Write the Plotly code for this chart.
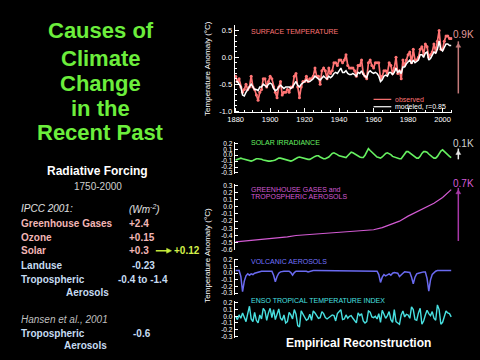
import plotly.graph_objects as go

# ---------------- data ----------------
years = list(range(1880, 2006))

observed = [
    -0.35, -0.45, -0.40, -0.55, -0.65, -0.60, -0.50, -0.60, -0.55, -0.35,
    -0.55, -0.60, -0.70, -0.80, -0.65, -0.60, -0.40, -0.40, -0.55, -0.45,
    -0.35, -0.40, -0.55, -0.65, -0.75, -0.55, -0.45, -0.70, -0.65, -0.65,
    -0.60, -0.65, -0.55, -0.55, -0.35, -0.30, -0.55, -0.75, -0.55, -0.45,
    -0.45, -0.35, -0.45, -0.40, -0.40, -0.35, -0.20, -0.35, -0.35, -0.50,
    -0.25, -0.20, -0.25, -0.40, -0.20, -0.30, -0.25, -0.10, -0.10, -0.15,
    -0.05, -0.05, -0.10, -0.05, 0.05, -0.15, -0.20, -0.20, -0.20, -0.25,
    -0.35, -0.15, -0.15, -0.05, -0.30, -0.35, -0.40, -0.10, -0.05, -0.15,
    -0.20, -0.10, -0.10, -0.10, -0.40, -0.35, -0.25, -0.25, -0.30, -0.10,
    -0.15, -0.30, -0.20, 0.00, -0.30, -0.25, -0.40, -0.05, -0.15, -0.05,
    0.05, 0.10, -0.10, 0.15, -0.05, -0.05, 0.00, 0.15, 0.20, 0.05,
    0.25, 0.20, 0.00, 0.05, 0.10, 0.25, 0.10, 0.30, 0.50, 0.15,
    0.15, 0.30, 0.40, 0.40, 0.35, 0.35,
]

modeled = [
    -0.45, -0.45, -0.50, -0.55, -0.70, -0.72, -0.65, -0.60, -0.55, -0.50,
    -0.55, -0.60, -0.60, -0.62, -0.55, -0.55, -0.50, -0.52, -0.55, -0.50,
    -0.48, -0.50, -0.58, -0.62, -0.60, -0.55, -0.52, -0.55, -0.58, -0.55,
    -0.55, -0.55, -0.58, -0.55, -0.50, -0.45, -0.52, -0.55, -0.50, -0.48,
    -0.45, -0.42, -0.45, -0.45, -0.42, -0.40, -0.35, -0.38, -0.40, -0.42,
    -0.38, -0.35, -0.38, -0.40, -0.35, -0.38, -0.35, -0.30, -0.28, -0.30,
    -0.25, -0.20, -0.28, -0.28, -0.25, -0.30, -0.32, -0.32, -0.30, -0.32,
    -0.35, -0.28, -0.30, -0.25, -0.32, -0.35, -0.38, -0.28, -0.25, -0.28,
    -0.30, -0.28, -0.30, -0.35, -0.45, -0.42, -0.35, -0.33, -0.35, -0.28,
    -0.28, -0.32, -0.28, -0.20, -0.28, -0.25, -0.30, -0.18, -0.18, -0.12,
    -0.08, -0.05, -0.12, -0.05, -0.10, -0.08, -0.05, 0.05, 0.05, 0.00,
    0.08, 0.10, -0.05, -0.02, 0.05, 0.10, 0.08, 0.15, 0.30, 0.15,
    0.12, 0.20, 0.25, 0.25, 0.22, 0.22,
]

solar = [
    -0.08, -0.07, -0.06, -0.05, -0.06, -0.07, -0.08, -0.09, -0.10, -0.10,
    -0.09, -0.07, -0.06, -0.06, -0.06, -0.07, -0.08, -0.09, -0.09, -0.10,
    -0.10, -0.10, -0.09, -0.08, -0.06, -0.05, -0.05, -0.06, -0.07, -0.08,
    -0.09, -0.09, -0.10, -0.09, -0.07, -0.05, -0.04, -0.03, -0.04, -0.05,
    -0.06, -0.07, -0.07, -0.07, -0.05, -0.03, -0.02, -0.01, -0.01, -0.03,
    -0.05, -0.06, -0.06, -0.05, -0.03, 0.00, 0.03, 0.04, 0.03, 0.01,
    -0.01, -0.02, -0.03, -0.04, -0.04, -0.01, 0.03, 0.05, 0.04, 0.02,
    0.00, -0.02, -0.03, -0.04, -0.04, 0.00, 0.07, 0.11, 0.08, 0.05,
    0.02, -0.01, -0.03, -0.04, -0.05, -0.03, 0.00, 0.03, 0.04, 0.03,
    0.01, -0.02, -0.03, -0.05, -0.06, -0.06, -0.06, -0.02, 0.03, 0.06,
    0.06, 0.04, 0.02, -0.01, -0.03, -0.05, -0.05, -0.02, 0.03, 0.06,
    0.06, 0.05, 0.02, -0.01, -0.03, -0.05, -0.05, -0.02, 0.03, 0.07,
    0.09, 0.06, 0.04, 0.00, -0.02, -0.04,
]

ghg_years = list(range(1880, 2006, 5))
ghg = [
    -0.49, -0.48, -0.46, -0.45, -0.44, -0.43, -0.42, -0.40, -0.39, -0.38,
    -0.37, -0.36, -0.35, -0.35, -0.34, -0.33, -0.32, -0.29, -0.25, -0.20,
    -0.13, -0.07, -0.01, 0.05, 0.13, 0.24,
]

volcanic = [
    0.04, 0.04, 0.04, -0.05, -0.28, -0.12, -0.04, -0.01, -0.03, -0.01,
    -0.02, 0.00, 0.01, 0.02, 0.02, 0.03, 0.03, 0.03, 0.03, 0.03,
    0.03, 0.03, -0.03, -0.13, -0.05, 0.00, 0.02, 0.03, 0.03, 0.03,
    0.03, 0.03, 0.01, -0.03, 0.01, 0.03, 0.03, 0.03, 0.03, 0.03,
    0.04, 0.03, 0.02, 0.03, 0.04, 0.04, 0.04, 0.04, 0.04, 0.03,
    0.03, 0.04, 0.04, 0.03, 0.04, 0.04, 0.04, 0.04, 0.04, 0.04,
    0.04, 0.04, 0.04, 0.04, 0.04, 0.04, 0.04, 0.04, 0.04, 0.04,
    0.04, 0.04, 0.04, 0.04, 0.04, 0.04, 0.04, 0.04, 0.04, 0.04,
    0.04, 0.04, 0.03, -0.02, -0.14, -0.06, -0.02, -0.04, -0.03, -0.01,
    -0.03, 0.00, 0.01, 0.01, 0.00, -0.05, -0.02, 0.00, 0.02, 0.02,
    0.01, 0.01, -0.06, -0.16, -0.06, -0.01, 0.00, 0.01, 0.02, 0.02,
    0.02, -0.08, -0.27, -0.10, -0.02, 0.01, 0.03, 0.04, 0.04, 0.04,
    0.04, 0.04, 0.04, 0.04, 0.04, 0.04,
]

enso = [
    0.00, -0.05, 0.02, -0.03, 0.05, -0.02, -0.08, 0.04, 0.15, -0.04,
    -0.08, 0.06, -0.06, -0.10, 0.02, -0.04, 0.12, 0.08, -0.06, 0.05,
    0.12, -0.02, 0.10, -0.05, 0.04, 0.11, -0.03, -0.06, 0.02, -0.10,
    -0.08, 0.06, 0.02, -0.04, 0.10, 0.03, -0.14, -0.16, 0.08, 0.04,
    -0.02, -0.06, -0.04, 0.03, -0.06, 0.08, 0.05, 0.00, -0.03, -0.02,
    0.07, 0.04, -0.02, -0.04, -0.02, 0.00, 0.02, 0.01, -0.07, 0.04,
    0.08, 0.10, -0.05, -0.04, 0.02, -0.03, 0.00, 0.01, -0.03, -0.06,
    -0.10, 0.05, 0.01, 0.04, -0.07, -0.10, -0.08, 0.08, 0.06, -0.01,
    -0.02, 0.00, -0.04, 0.04, -0.09, 0.09, 0.02, -0.03, 0.01, 0.07,
    -0.05, -0.09, 0.10, -0.08, -0.10, -0.12, 0.02, 0.08, -0.01, 0.03,
    0.02, -0.03, 0.14, 0.10, -0.05, -0.06, 0.05, 0.12, -0.12, -0.07,
    0.02, 0.09, 0.04, 0.01, 0.07, -0.03, -0.06, 0.17, 0.10, -0.12,
    -0.09, -0.02, 0.08, 0.05, 0.04, -0.01,
]

top_xticks = [1880, 1900, 1920, 1940, 1960, 1980, 2000]
top_yticks = [-1.0, -0.5, 0.0, 0.5]
small_yticks = [0.2, 0.1, 0.0, -0.1, -0.2, -0.3]
ghg_yticks = [0.3, 0.2, 0.1, 0.0, -0.1, -0.2, -0.3, -0.4, -0.5, -0.6]

# ---------------- helpers ----------------
W, H = 480, 360
FONT = "Liberation Sans, Arial, sans-serif"


def px(x):
    return x / W


def py(y):
    return 1 - y / H


def labels(vals):
    return ["%.1f" % v for v in vals]


SALMON = "#ff7474"
GREEN = "#66f060"
MAGENTA = "#d25ad2"
BLUE = "#6a6af0"
CYAN = "#48e0e0"

XRANGE = [1879.4, 2005.7]
XDOM = [px(231), px(452)]

fig = go.Figure()
fig.add_trace(go.Scatter(x=years, y=observed, mode="lines+markers",
                         line=dict(color=SALMON, width=1.7),
                         marker=dict(color=SALMON, size=3),
                         xaxis="x", yaxis="y"))
fig.add_trace(go.Scatter(x=years, y=modeled, mode="lines",
                         line=dict(color="white", width=1.5),
                         xaxis="x", yaxis="y"))
fig.add_trace(go.Scatter(x=years, y=solar, mode="lines",
                         line=dict(color=GREEN, width=1.6),
                         xaxis="x2", yaxis="y2"))
fig.add_trace(go.Scatter(x=ghg_years, y=ghg, mode="lines",
                         line=dict(color=MAGENTA, width=1.2),
                         xaxis="x3", yaxis="y3"))
fig.add_trace(go.Scatter(x=years, y=volcanic, mode="lines",
                         line=dict(color=BLUE, width=1.5),
                         xaxis="x4", yaxis="y4"))
fig.add_trace(go.Scatter(x=years, y=enso, mode="lines",
                         line=dict(color=CYAN, width=1.4),
                         xaxis="x5", yaxis="y5"))

axis_common = dict(showgrid=False, zeroline=False, color="white",
                   linecolor="white", linewidth=1, tickcolor="white",
                   showline=True, ticks="inside")

layout = dict(
    width=W, height=H, margin=dict(l=0, r=0, t=0, b=0),
    paper_bgcolor="black", plot_bgcolor="black", showlegend=False,
    font=dict(family=FONT, color="white"),
    xaxis=dict(domain=XDOM, range=XRANGE, anchor="y",
               tickvals=top_xticks, ticktext=[str(v) for v in top_xticks],
               ticklen=4, tickfont=dict(size=7.5),
               minor=dict(ticks="inside", ticklen=2, dtick=5, tick0=1880,
                          tickcolor="white"),
               **axis_common),
    yaxis=dict(domain=[py(112), py(23)], range=[-1.02, 0.61], anchor="x",
               tickvals=top_yticks, ticktext=labels(top_yticks),
               ticklen=4, tickfont=dict(size=7.5),
               minor=dict(ticks="inside", ticklen=2, dtick=0.1, tick0=0,
                          tickcolor="white"),
               **axis_common),
)

lower = [
    (2, [142, 175], [-0.32, 0.23], small_yticks),
    (3, [185, 252], [-0.60, 0.32], ghg_yticks),
    (4, [261, 298], [-0.33, 0.22], small_yticks),
    (5, [304, 342], [-0.33, 0.23], small_yticks),
]
for n, (top, bot), rng, tv in lower:
    layout["xaxis%d" % n] = dict(domain=XDOM, range=XRANGE, anchor="y%d" % n,
                                 visible=False)
    layout["yaxis%d" % n] = dict(domain=[py(bot), py(top)], range=rng,
                                 anchor="x%d" % n, tickvals=tv,
                                 ticktext=labels(tv), ticklen=3,
                                 tickfont=dict(size=6.5), **axis_common)

fig.update_layout(**layout)

ann = []


def txt(x, y, s, color="white", size=10, anchor="left", angle=0):
    ann.append(dict(x=px(x), y=py(y), xref="paper", yref="paper", text=s,
                    showarrow=False, xanchor=anchor, yanchor="middle",
                    textangle=angle,
                    font=dict(family=FONT, color=color, size=size)))


def vline_arrow(x, y_head, y_tail, color, width=1.5):
    fig.add_shape(type="line", xref="paper", yref="paper",
                  x0=px(x), x1=px(x), y0=py(y_tail), y1=py(y_head - 2),
                  line=dict(color=color, width=width))
    fig.add_shape(type="path", xref="paper", yref="paper",
                  path="M %f %f L %f %f L %f %f Z" % (
                      px(x - 2.5), py(y_head + 4), px(x + 2.5), py(y_head + 4),
                      px(x), py(y_head)),
                  fillcolor=color, line=dict(color=color, width=0.5))


# left title
TITLE_GREEN = "#6cee3c"
for s, y in [("Causes of", 29), ("Climate", 57), ("Change", 83),
             ("in the", 108), ("Recent Past", 133)]:
    txt(95, y, "<b>%s</b>" % s, TITLE_GREEN, 22, "center")

txt(92, 172, "<b>Radiative Forcing</b>", "white", 12, "center")
txt(92, 188, "1750-2000", "#cfcfcf", 10, "center")

PINK = "#f2b6b6"
LBLUE = "#c6dcf2"
txt(12, 210, "<i>IPCC 2001:</i>", "#e0e0e0", 10)
txt(122, 210, "<i>(Wm<sup>-2</sup>)</i>", "#e0e0e0", 10)
txt(12, 225, "<b>Greenhouse Gases</b>", PINK, 10)
txt(122, 225, "<b>+2.4</b>", PINK, 10)
txt(12, 239, "<b>Ozone</b>", PINK, 10)
txt(122, 239, "<b>+0.15</b>", PINK, 10)
txt(12, 253, "<b>Solar</b>", PINK, 10)
txt(122, 253, "<b>+0.3</b>", PINK, 10)
fig.add_shape(type="line", xref="paper", yref="paper",
              x0=px(151), x1=px(163), y0=py(253), y1=py(253),
              line=dict(color="#c8f03c", width=1.5))
fig.add_shape(type="path", xref="paper", yref="paper",
              path="M %f %f L %f %f L %f %f Z" % (
                  px(162), py(250.5), px(162), py(255.5), px(167), py(253)),
              fillcolor="#c8f03c", line=dict(color="#c8f03c", width=0.5))
txt(167, 253, "<b>+0.12</b>", "#d4f04a", 10)
txt(12, 268, "<b>Landuse</b>", LBLUE, 10)
txt(125, 268, "<b>-0.23</b>", LBLUE, 10)
txt(12, 282, "<b>Tropospheric</b>", LBLUE, 10)
txt(111, 282, "<b>-0.4 to -1.4</b>", LBLUE, 10)
txt(58, 295, "<b>Aerosols</b>", LBLUE, 10)
txt(12, 323, "<i>Hansen et al., 2001</i>", "#bfbfbf", 10)
txt(12, 337, "<b>Tropospheric</b>", LBLUE, 10)
txt(126, 337, "<b>-0.6</b>", LBLUE, 10)
txt(56, 349, "<b>Aerosols</b>", LBLUE, 10)

# panel labels
txt(246, 30, "SURFACE TEMPERATURE", SALMON, 7)
txt(246, 143, "SOLAR IRRADIANCE", GREEN, 7)
txt(246, 191, "GREENHOUSE GASES and", MAGENTA, 7)
txt(246, 197.5, "TROPOSPHERIC AEROSOLS", MAGENTA, 7)
txt(246, 264, "VOLCANIC AEROSOLS", "#7272ff", 7)
txt(246, 304, "ENSO TROPICAL TEMPERATURE INDEX", CYAN, 7)
txt(357, 347, "<b>Empirical Reconstruction</b>", "white", 12, "center")

# y-axis titles
txt(204, 68, "Temperature Anomaly (°C)", "white", 8, "center", -90)
txt(204, 258, "Temperature Anomaly (°C)", "white", 8, "center", -90)

# legend for surface panel
fig.add_shape(type="line", xref="paper", yref="paper",
              x0=px(372), x1=px(390), y0=py(99), y1=py(99),
              line=dict(color=SALMON, width=1.2))
txt(392, 99, "observed", SALMON, 7)
fig.add_shape(type="line", xref="paper", yref="paper",
              x0=px(372), x1=px(390), y0=py(106.5), y1=py(106.5),
              line=dict(color="white", width=1.2))
txt(392, 106.5, "modeled, r=0.85", "white", 7)

# right-hand amplitude markers
txt(451, 33, "0.9K", "#e09a9a", 10)
vline_arrow(458, 42, 93, "#c47a7a")
txt(451, 144, "0.1K", "#d0d0d0", 10)
vline_arrow(458, 151, 160, "#e6e6e6")
txt(451, 185, "0.7K", "#d65cd6", 10)
vline_arrow(458, 191, 243, "#a838a8")

fig.update_layout(annotations=ann)
fig.write_html("out.html",
               config={"displayModeBar": False},
               post_script=["document.body.style.margin='0';"
                            "document.body.style.overflow='hidden';"])
